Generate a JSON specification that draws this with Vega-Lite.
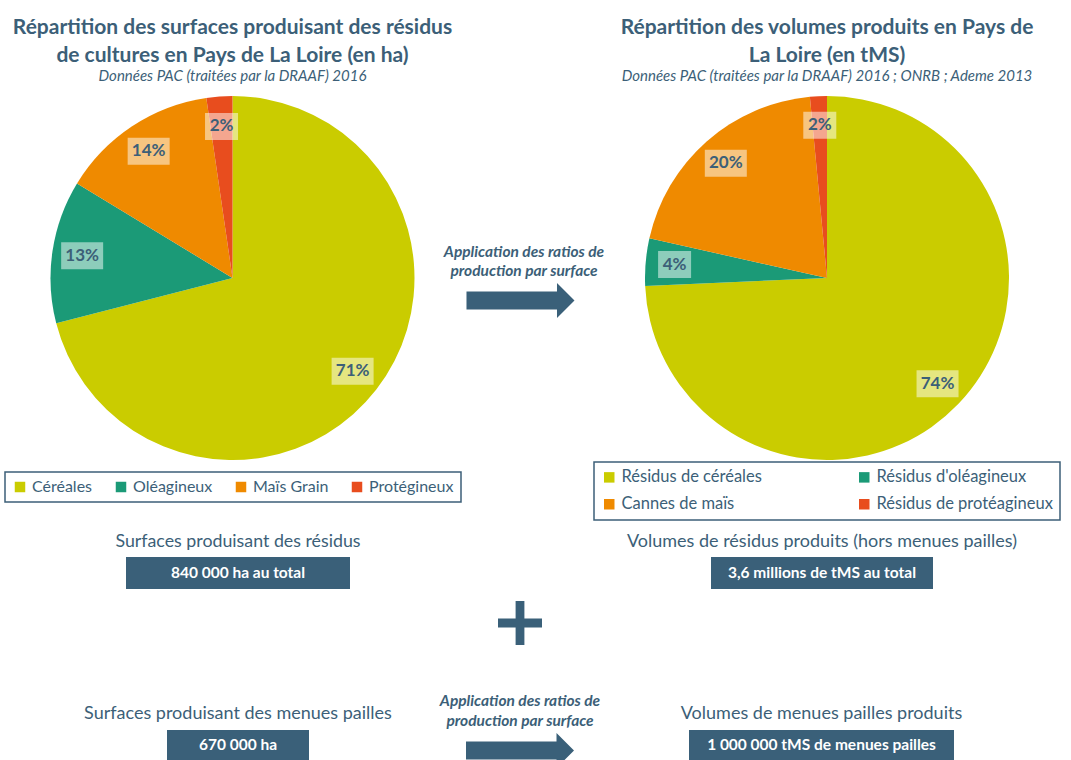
{
  "$schema": "https://vega.github.io/schema/vega-lite/v6.json",
  "background": "white",
  "padding": {"left": 0, "top": 17, "right": 0, "bottom": 0},
  "spacing": 0,
  "config": {
    "view": {"stroke": null},
    "font": "Lato",
    "title": {"font": "Lato", "color": "#3C5F78"},
    "legend": {"strokeWidth": 1.5, "layout": {"bottom": {"anchor": "middle"}}}
  },
  "resolve": {"scale": {"color": "independent"}},
  "vconcat": [
    {
      "hconcat": [
        {
          "width": 465,
          "height": 364,
          "title": {
            "text": ["Répartition des surfaces produisant des résidus", "de cultures en Pays de La Loire (en ha)"],
            "subtitle": "Données PAC (traitées par la DRAAF) 2016",
            "anchor": "middle",
            "fontSize": 21,
            "fontWeight": "bold",
            "lineHeight": 28,
            "subtitleFont": "Lato",
            "subtitleFontSize": 15,
            "subtitleFontStyle": "italic",
            "subtitleColor": "#3C5F78",
            "subtitlePadding": 3,
            "offset": 12
          },
          "data": {"values": [
            {"cat": "Céréales", "value": 71.0, "label": "71%", "ord": 1},
            {"cat": "Oléagineux", "value": 12.7, "label": "13%", "ord": 2},
            {"cat": "Maïs Grain", "value": 14.0, "label": "14%", "ord": 3},
            {"cat": "Protégineux", "value": 2.3, "label": "2%", "ord": 4}
          ]},
          "transform": [
            {"window": [{"op": "sum", "field": "value", "as": "cum"}], "sort": [{"field": "ord"}], "frame": [null, 0]},
            {"joinaggregate": [{"op": "sum", "field": "value", "as": "tot"}]},
            {"calculate": "2*PI*(datum.cum - datum.value/2)/datum.tot", "as": "ang"},
            {"calculate": "152*sin(datum.ang)", "as": "lx"},
            {"calculate": "152*cos(datum.ang)", "as": "ly"}
          ],
          "layer": [
            {
              "mark": {"type": "arc"},
              "encoding": {
                "theta": {"field": "value", "type": "quantitative", "stack": true},
                "order": {"field": "ord", "type": "quantitative"},
                "color": {
                  "field": "cat", "type": "nominal",
                  "scale": {"domain": ["Céréales", "Oléagineux", "Maïs Grain", "Protégineux"], "range": ["#CACC00", "#1B9A77", "#EF8A00", "#E84D1E"]},
                  "legend": {"orient": "bottom", "direction": "horizontal", "columns": 4, "title": null, "symbolType": "square", "symbolSize": 110, "symbolStrokeWidth": 0, "labelFont": "Lato", "labelFontSize": 16, "labelColor": "#3C5F78", "labelOffset": 4, "strokeColor": "#3C5F78", "padding": 7, "columnPadding": 20, "offset": 12, "labelLimit": 300}
                }
              }
            },
            {
              "mark": {"type": "point", "filled": true, "color": "white", "opacity": 0.5, "strokeWidth": 0, "size": 1764},
              "encoding": {
                "x": {"field": "lx", "type": "quantitative", "scale": {"domain": [-232.5, 232.5], "nice": false, "zero": false}, "axis": null},
                "y": {"field": "ly", "type": "quantitative", "scale": {"domain": [-182, 182], "nice": false, "zero": false}, "axis": null},
                "shape": {"condition": {"test": "length(datum.label) > 2", "value": "M-1,-0.643L1,-0.643L1,0.643L-1,0.643Z"}, "value": "M-0.786,-0.643L0.786,-0.643L0.786,0.643L-0.786,0.643Z"}
              }
            },
            {
              "mark": {"type": "text", "font": "Lato", "fontWeight": "bold", "fontSize": 17, "color": "#3C5F78", "align": "center", "baseline": "middle"},
              "encoding": {
                "x": {"field": "lx", "type": "quantitative", "scale": {"domain": [-232.5, 232.5], "nice": false, "zero": false}, "axis": null},
                "y": {"field": "ly", "type": "quantitative", "scale": {"domain": [-182, 182], "nice": false, "zero": false}, "axis": null},
                "text": {"field": "label"}
              }
            }
          ]
        },
        {
          "width": 118,
          "height": 327,
          "data": {"values": [{"t": "Application des ratios de\nproduction par surface"}]},
          "layer": [
            {
              "mark": {"type": "text", "baseline": "bottom", "align": "center", "lineBreak": "\n", "font": "Lato", "fontStyle": "italic", "fontWeight": "bold", "fontSize": 15.5, "lineHeight": 19.5, "color": "#3C5F78"},
              "encoding": {"text": {"field": "t"}}
            },
            {
              "mark": {"type": "point", "shape": "M-1.065,0.592L0.611,0.592L0.611,0.435L0.935,0.759L0.611,1.083L0.611,0.926L-1.065,0.926Z", "size": 11664, "filled": true, "color": "#3A6079", "opacity": 1, "strokeWidth": 0},
              "encoding": {}
            }
          ]
        },
        {
          "width": 488,
          "height": 364,
          "title": {
            "text": ["Répartition des volumes produits en Pays de", "La Loire (en tMS)"],
            "subtitle": "Données PAC (traitées par la DRAAF) 2016 ; ONRB ; Ademe 2013",
            "anchor": "middle",
            "fontSize": 21,
            "fontWeight": "bold",
            "lineHeight": 28,
            "subtitleFont": "Lato",
            "subtitleFontSize": 15,
            "subtitleFontStyle": "italic",
            "subtitleColor": "#3C5F78",
            "subtitlePadding": 3,
            "offset": 12
          },
          "data": {"values": [
            {"cat": "Résidus de céréales", "value": 74.3, "label": "74%", "ord": 1},
            {"cat": "Résidus d'oléagineux", "value": 4.2, "label": "4%", "ord": 2},
            {"cat": "Cannes de maïs", "value": 20.0, "label": "20%", "ord": 3},
            {"cat": "Résidus de protéagineux", "value": 1.5, "label": "2%", "ord": 4}
          ]},
          "transform": [
            {"window": [{"op": "sum", "field": "value", "as": "cum"}], "sort": [{"field": "ord"}], "frame": [null, 0]},
            {"joinaggregate": [{"op": "sum", "field": "value", "as": "tot"}]},
            {"calculate": "2*PI*(datum.cum - datum.value/2)/datum.tot", "as": "ang"},
            {"calculate": "153*sin(datum.ang)", "as": "lx"},
            {"calculate": "153*cos(datum.ang)", "as": "ly"}
          ],
          "layer": [
            {
              "mark": {"type": "arc"},
              "encoding": {
                "theta": {"field": "value", "type": "quantitative", "stack": true},
                "order": {"field": "ord", "type": "quantitative"},
                "color": {
                  "field": "cat", "type": "nominal",
                  "scale": {"domain": ["Résidus de céréales", "Résidus d'oléagineux", "Cannes de maïs", "Résidus de protéagineux"], "range": ["#CACC00", "#1B9A77", "#EF8A00", "#E84D1E"]},
                  "legend": {"orient": "bottom", "direction": "horizontal", "columns": 2, "gridAlign": "all", "title": null, "symbolType": "square", "symbolSize": 110, "symbolStrokeWidth": 0, "labelFont": "Lato", "labelFontSize": 16.5, "labelColor": "#3C5F78", "labelOffset": 4, "strokeColor": "#3C5F78", "padding": 7, "columnPadding": 58, "rowPadding": 10, "offset": 2, "labelLimit": 300}
                }
              }
            },
            {
              "mark": {"type": "point", "filled": true, "color": "white", "opacity": 0.5, "strokeWidth": 0, "size": 1764},
              "encoding": {
                "x": {"field": "lx", "type": "quantitative", "scale": {"domain": [-244, 244], "nice": false, "zero": false}, "axis": null},
                "y": {"field": "ly", "type": "quantitative", "scale": {"domain": [-182, 182], "nice": false, "zero": false}, "axis": null},
                "shape": {"condition": {"test": "length(datum.label) > 2", "value": "M-1,-0.643L1,-0.643L1,0.643L-1,0.643Z"}, "value": "M-0.786,-0.643L0.786,-0.643L0.786,0.643L-0.786,0.643Z"}
              }
            },
            {
              "mark": {"type": "text", "font": "Lato", "fontWeight": "bold", "fontSize": 17, "color": "#3C5F78", "align": "center", "baseline": "middle"},
              "encoding": {
                "x": {"field": "lx", "type": "quantitative", "scale": {"domain": [-244, 244], "nice": false, "zero": false}, "axis": null},
                "y": {"field": "ly", "type": "quantitative", "scale": {"domain": [-182, 182], "nice": false, "zero": false}, "axis": null},
                "text": {"field": "label"}
              }
            }
          ]
        }
      ],
      "spacing": 0,
      "bounds": "flush",
      "resolve": {"scale": {"color": "independent", "x": "independent", "y": "independent"}}
    },
    {"width": 10, "height": 12, "data": {"values": []}, "mark": {"type": "text"}, "encoding": {}},
    {
      "hconcat": [
        {"width": 126, "height": 32, "data": {"values": []}, "mark": {"type": "text"}, "encoding": {}},
        {
          "width": 224, "height": 32,
          "view": {"fill": "#3A6079", "stroke": null},
          "title": {"text": "Surfaces produisant des résidus", "fontSize": 17.8, "fontWeight": "normal", "offset": 6},
          "data": {"values": [{"t": "840 000 ha au total"}]},
          "mark": {"type": "text", "font": "Lato", "fontWeight": "bold", "fontSize": 15.5, "color": "white", "align": "center", "baseline": "middle"},
          "encoding": {"text": {"field": "t"}}
        },
        {"width": 361, "height": 32, "data": {"values": []}, "mark": {"type": "text"}, "encoding": {}},
        {
          "width": 222, "height": 32,
          "view": {"fill": "#3A6079", "stroke": null},
          "title": {"text": "Volumes de résidus produits (hors menues pailles)", "fontSize": 18, "fontWeight": "normal", "offset": 6},
          "data": {"values": [{"t": "3,6 millions de tMS au total"}]},
          "mark": {"type": "text", "font": "Lato", "fontWeight": "bold", "fontSize": 15.5, "color": "white", "align": "center", "baseline": "middle"},
          "encoding": {"text": {"field": "t"}}
        }
      ],
      "spacing": 0,
      "bounds": "flush"
    },
    {"width": 10, "height": 12, "data": {"values": []}, "mark": {"type": "text"}, "encoding": {}},
    {
      "width": 1040,
      "height": 44,
      "data": {"values": [{"sign": "+"}]},
      "mark": {"type": "point", "shape": "M-0.2,-1L0.2,-1L0.2,-0.2L1,-0.2L1,0.2L0.2,0.2L0.2,1L-0.2,1L-0.2,0.2L-1,0.2L-1,-0.2L-0.2,-0.2Z", "size": 1936, "filled": true, "color": "#3A6079", "opacity": 1, "strokeWidth": 0},
      "encoding": {}
    },
    {"width": 10, "height": 49, "data": {"values": []}, "mark": {"type": "text"}, "encoding": {}},
    {
      "hconcat": [
        {"width": 167, "height": 30, "data": {"values": []}, "mark": {"type": "text"}, "encoding": {}},
        {
          "width": 142, "height": 30,
          "view": {"fill": "#3A6079", "stroke": null},
          "title": {"text": "Surfaces produisant des menues pailles", "fontSize": 18, "fontWeight": "normal", "offset": 7},
          "data": {"values": [{"t": "670 000 ha"}]},
          "mark": {"type": "text", "font": "Lato", "fontWeight": "bold", "fontSize": 15.5, "color": "white", "align": "center", "baseline": "middle"},
          "encoding": {"text": {"field": "t"}}
        },
        {"width": 157, "height": 30, "data": {"values": []}, "mark": {"type": "text"}, "encoding": {}},
        {
          "width": 108, "height": 30,
          "title": {"text": ["Application des ratios de", "production par surface"], "fontSize": 15.5, "fontStyle": "italic", "fontWeight": "bold", "lineHeight": 19.5, "offset": 1},
          "data": {"values": [{"step": "ratios"}]},
          "mark": {"type": "point", "clip": true, "shape": "M-1,-0.065L0.676,-0.065L0.676,-0.222L1,0.102L0.676,0.426L0.676,0.269L-1,0.269Z", "size": 11664, "filled": true, "color": "#3A6079", "opacity": 1, "strokeWidth": 0},
          "encoding": {}
        },
        {"width": 115, "height": 30, "data": {"values": []}, "mark": {"type": "text"}, "encoding": {}},
        {
          "width": 265, "height": 30,
          "view": {"fill": "#3A6079", "stroke": null},
          "title": {"text": "Volumes de menues pailles produits", "fontSize": 18, "fontWeight": "normal", "offset": 7},
          "data": {"values": [{"t": "1 000 000 tMS de menues pailles"}]},
          "mark": {"type": "text", "font": "Lato", "fontWeight": "bold", "fontSize": 15.5, "color": "white", "align": "center", "baseline": "middle"},
          "encoding": {"text": {"field": "t"}}
        }
      ],
      "spacing": 0,
      "bounds": "flush"
    }
  ]
}
